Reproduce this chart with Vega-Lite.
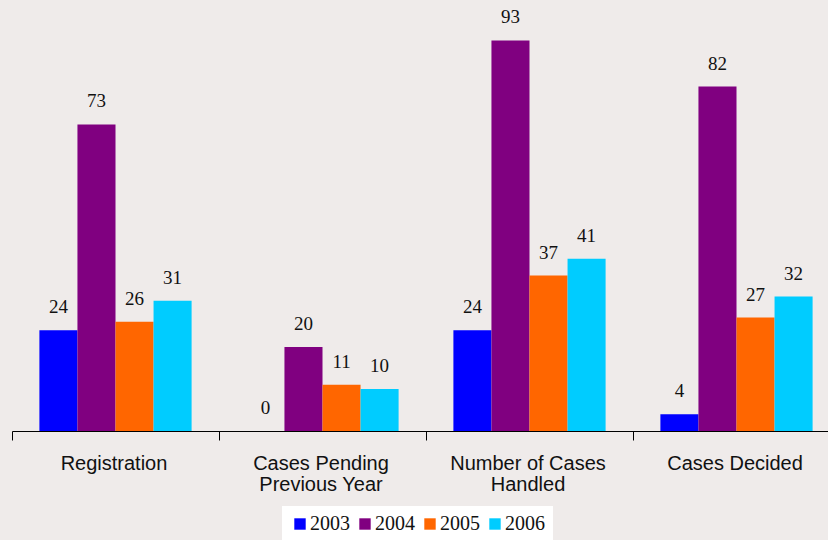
{
  "$schema": "https://vega.github.io/schema/vega-lite/v6.json",
  "autosize": {"type": "none"},
  "width": 816,
  "height": 420,
  "padding": {"left": 12, "top": 11, "right": 0, "bottom": 109},
  "background": "#efebea",
  "config": {"view": {"stroke": null}},
  "data": {
    "values": [
      {"category": "Registration", "year": "2003", "value": 24},
      {"category": "Registration", "year": "2004", "value": 73},
      {"category": "Registration", "year": "2005", "value": 26},
      {"category": "Registration", "year": "2006", "value": 31},
      {"category": "Cases Pending|Previous Year", "year": "2003", "value": 0},
      {"category": "Cases Pending|Previous Year", "year": "2004", "value": 20},
      {"category": "Cases Pending|Previous Year", "year": "2005", "value": 11},
      {"category": "Cases Pending|Previous Year", "year": "2006", "value": 10},
      {"category": "Number of Cases|Handled", "year": "2003", "value": 24},
      {"category": "Number of Cases|Handled", "year": "2004", "value": 93},
      {"category": "Number of Cases|Handled", "year": "2005", "value": 37},
      {"category": "Number of Cases|Handled", "year": "2006", "value": 41},
      {"category": "Cases Decided", "year": "2003", "value": 4},
      {"category": "Cases Decided", "year": "2004", "value": 82},
      {"category": "Cases Decided", "year": "2005", "value": 27},
      {"category": "Cases Decided", "year": "2006", "value": 32}
    ]
  },
  "encoding": {
    "x": {
      "field": "category",
      "type": "nominal",
      "sort": ["Registration", "Cases Pending|Previous Year", "Number of Cases|Handled", "Cases Decided"],
      "scale": {"paddingInner": 0, "paddingOuter": 0, "range": [0, 828]},
      "axis": {
        "title": null,
        "labelAngle": 0,
        "labelExpr": "split(datum.label, '|')",
        "labelFont": "Liberation Sans",
        "labelFontSize": 20,
        "labelColor": "#111111",
        "labelLimit": 0,
        "labelPadding": 13,
        "labelLineHeight": 21,
        "labelBaseline": "top",
        "labelOffset": -2,
        "domainColor": "#000000",
        "tickColor": "#000000",
        "tickSize": 9,
        "tickBand": "extent",
        "domainWidth": 1
      }
    },
    "xOffset": {
      "field": "year",
      "type": "nominal",
      "scale": {"paddingInner": 0, "paddingOuter": 0.72}
    },
    "y": {
      "field": "value",
      "type": "quantitative",
      "scale": {"domain": [0, 100]},
      "axis": null
    }
  },
  "layer": [
    {
      "mark": {"type": "bar"},
      "encoding": {
        "color": {
          "field": "year",
          "type": "nominal",
          "scale": {"domain": ["2003", "2004", "2005", "2006"], "range": ["#0000ff", "#800080", "#ff6600", "#00ccff"]},
          "legend": {
            "title": null,
            "orient": "none",
            "direction": "horizontal",
            "legendX": 270,
            "legendY": 495,
            "fillColor": "#ffffff",
            "padding": 8,
            "symbolType": "square",
            "symbolSize": 130,
            "symbolStrokeWidth": 0,
            "symbolOpacity": 1,
            "labelFont": "Liberation Serif",
            "labelFontSize": 20,
            "labelColor": "#111111",
            "labelOffset": 0,
            "columnPadding": 5
          }
        }
      }
    },
    {
      "mark": {"type": "text", "baseline": "alphabetic", "dy": -17, "font": "Liberation Serif", "fontSize": 19, "color": "#111111"},
      "encoding": {"text": {"field": "value", "type": "quantitative"}}
    }
  ]
}
